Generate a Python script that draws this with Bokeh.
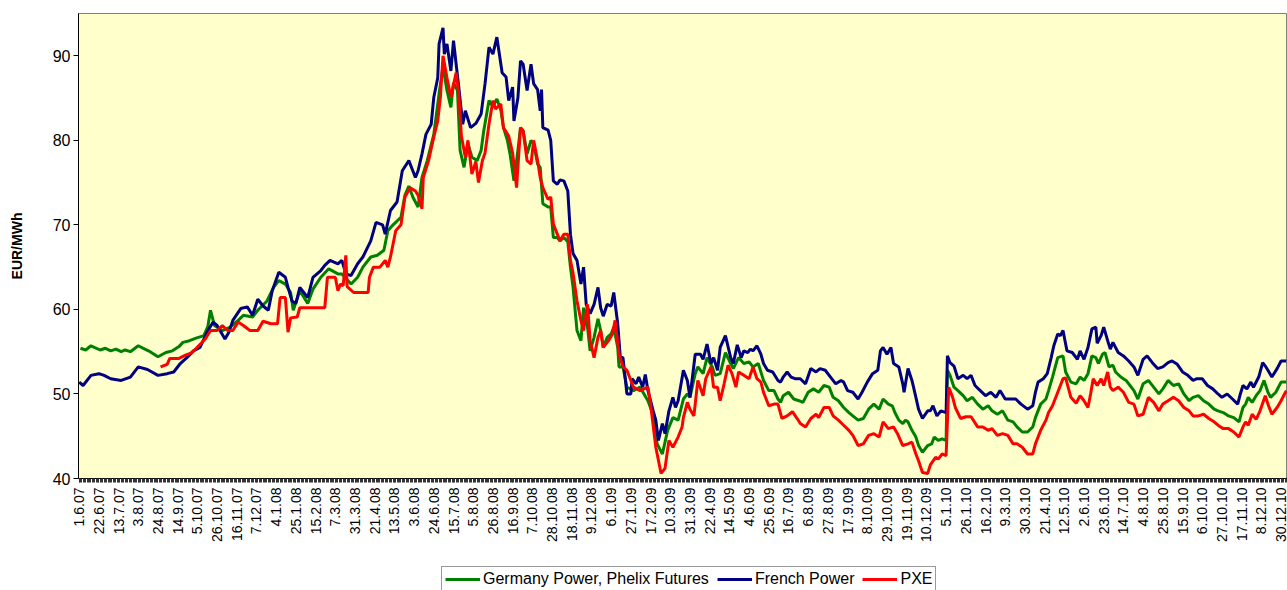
import numpy as np
from bokeh.plotting import figure
from bokeh.layouts import column
from bokeh.models import FixedTicker, Range1d, Legend, LegendItem
from bokeh.embed import file_html
from bokeh.resources import INLINE

# x tick labels (every 15th trading day)
tick_labels = ["1.6.07", "22.6.07", "13.7.07", "3.8.07", "24.8.07", "14.9.07", "5.10.07", "26.10.07",
               "16.11.07", "7.12.07", "4.1.08", "25.1.08", "15.2.08", "7.3.08", "31.3.08", "21.4.08",
               "13.5.08", "3.6.08", "24.6.08", "15.7.08", "5.8.08", "26.8.08", "16.9.08", "7.10.08",
               "28.10.08", "18.11.08", "9.12.08", "6.1.09", "27.1.09", "17.2.09", "10.3.09", "31.3.09",
               "22.4.09", "14.5.09", "4.6.09", "25.6.09", "16.7.09", "6.8.09", "27.8.09", "17.9.09",
               "8.10.09", "29.10.09", "19.11.09", "10.12.09", "5.1.10", "26.1.10", "16.2.10", "9.3.10",
               "30.3.10", "21.4.10", "12.5.10", "2.6.10", "23.6.10", "14.7.10", "4.8.10", "25.8.10",
               "15.9.10", "6.10.10", "27.10.10", "17.11.10", "8.12.10", "30.12.10"]
label_step = 15

# Germany Power, Phelix Futures: trading-day index and EUR/MWh
ger_day = [1, 5, 9, 16, 20, 24, 28, 32, 35, 39,
           45, 50, 54, 60, 66, 71, 76, 79, 84, 89,
           95, 98, 100, 103, 109, 115, 121, 125, 132, 136,
           143, 148, 152, 157, 161, 163, 168, 174, 178, 184,
           190, 197, 200, 207, 212, 216, 222, 227, 232, 235,
           239, 245, 248, 251, 254, 258, 261, 265, 270, 274,
           277, 280, 283, 285, 288, 290, 293, 296, 299, 303,
           306, 308, 312, 315, 318, 321, 323, 326, 328, 331,
           334, 336, 338, 341, 344, 346, 349, 351, 353, 357,
           359, 361, 364, 366, 369, 372, 374, 376, 379, 382,
           384, 387, 389, 392, 395, 397, 399, 402, 405, 407,
           410, 411, 414, 417, 422, 427, 433, 437, 440, 444,
           448, 452, 456, 460, 463, 465, 469, 471, 475, 478,
           482, 484, 488, 492, 496, 498, 502, 506, 510, 513,
           517, 521, 525, 529, 532, 534, 536, 540, 544, 548,
           551, 555, 559, 563, 567, 571, 574, 578, 582, 586,
           589, 593, 597, 601, 605, 609, 612, 616, 619, 621,
           624, 627, 629, 631, 634, 637, 639, 642, 646, 649,
           651, 654, 657, 660, 661, 663, 666, 669, 673, 676,
           680, 684, 688, 692, 695, 699, 703, 707, 711, 714,
           718, 722, 726, 728, 732, 736, 738, 741, 745, 749,
           751, 755, 759, 762, 765, 768, 771, 774, 776, 779,
           781, 784, 787, 789, 793, 797, 800, 803, 806, 810,
           814, 818, 822, 825, 829, 833, 837, 841, 845, 848,
           852, 856, 860, 864, 867, 871, 875, 879, 883, 886,
           888, 890, 893, 896, 899, 902, 905, 907, 911, 915,
           919]
ger_val = [55.4, 55.2, 55.7, 55.2, 55.4, 55.1, 55.3, 55.0, 55.2, 55.0,
           55.7, 55.3, 55.0, 54.4, 54.9, 55.1, 55.6, 56.1, 56.3, 56.6,
           56.9, 58.0, 59.9, 58.1, 57.5, 57.9, 58.7, 59.3, 59.1, 59.9,
           61.0, 62.6, 63.4, 63.0, 62.0, 59.9, 62.2, 60.7, 62.4, 63.8,
           64.8, 64.2, 64.2, 63.0, 63.8, 65.0, 66.2, 66.4, 67.0, 69.3,
           70.0, 70.9, 73.5, 74.6, 73.3, 72.1, 75.6, 77.6, 80.7, 85.5,
           88.7, 85.9, 83.9, 86.8, 85.9, 78.8, 76.8, 79.6, 78.0, 77.6,
           78.8, 81.1, 84.7, 84.0, 84.9, 83.6, 81.5, 80.0, 78.4, 75.2,
           78.8, 81.5, 81.1, 78.4, 80.0, 79.6, 77.2, 76.8, 72.5, 72.1,
           72.1, 68.5, 68.5, 68.1, 68.5, 68.0, 65.0, 62.6, 57.5, 56.3,
           60.2, 57.9, 55.1, 56.7, 58.9, 57.5, 55.5, 56.7, 57.1, 57.9,
           55.5, 53.2, 53.2, 50.8, 50.4, 50.8, 49.2, 47.5, 44.1, 42.9,
           45.7, 47.2, 46.9, 49.4, 50.0, 49.6, 52.4, 53.2, 52.4, 54.3,
           53.2, 52.2, 52.4, 54.9, 53.6, 53.0, 54.3, 53.6, 53.8, 53.2,
           53.6, 51.6, 50.4, 50.4, 49.4, 49.0, 49.8, 50.2, 49.4, 49.2,
           49.0, 50.2, 50.6, 50.2, 51.0, 50.8, 49.6, 49.2, 48.4, 47.8,
           47.4, 46.9, 47.1, 48.2, 48.8, 48.2, 49.4, 48.8, 48.6, 47.8,
           46.9, 46.5, 46.9, 46.7, 45.7, 44.9, 43.9, 43.1, 43.9, 44.1,
           44.9, 44.5, 44.7, 44.5, 52.8, 52.2, 50.8, 50.4, 49.8, 49.2,
           49.6, 48.8, 48.2, 48.6, 48.0, 47.6, 48.0, 46.9, 46.7, 46.1,
           45.5, 45.5, 46.1, 47.2, 48.8, 49.4, 50.4, 52.0, 54.3, 54.5,
           52.6, 51.4, 51.2, 52.0, 51.6, 52.4, 54.5, 54.3, 53.6, 54.7,
           54.9, 53.2, 53.4, 52.6, 52.0, 51.6, 51.0, 50.4, 49.4, 51.2,
           51.6, 50.8, 50.0, 50.6, 51.6, 51.0, 51.2, 50.0, 49.2, 49.6,
           49.8, 49.2, 48.8, 48.2, 48.0, 47.8, 47.4, 47.2, 46.7, 48.4,
           48.8, 49.6, 49.0, 49.8, 50.4, 51.6, 50.2, 49.6, 50.2, 51.4,
           51.4]

# French Power
fra_day = [0, 3, 9, 15, 19, 24, 32, 39, 45, 52,
           60, 67, 72, 77, 82, 87, 92, 98, 102, 105,
           111, 114, 117, 123, 128, 132, 136, 140, 144, 147,
           152, 157, 159, 162, 165, 168, 171, 174, 178, 184,
           187, 191, 197, 200, 203, 207, 212, 216, 222, 226,
           231, 233, 237, 242, 246, 251, 254, 256, 258, 261,
           264, 268, 270, 273, 274, 277, 278, 280, 283, 285,
           287, 289, 292, 294, 298, 302, 306, 309, 312, 315,
           318, 322, 325, 327, 330, 331, 334, 336, 338, 341,
           344, 346, 349, 351, 352, 353, 357, 359, 361, 364,
           366, 369, 372, 374, 376, 379, 382, 384, 386, 389,
           392, 395, 397, 399, 402, 405, 407, 410, 412, 414,
           417, 420, 421, 424, 426, 429, 431, 433, 437, 439,
           441, 444, 446, 449, 452, 454, 456, 460, 463, 465,
           469, 473, 475, 478, 481, 483, 486, 488, 492, 496,
           498, 501, 504, 506, 509, 511, 513, 516, 519, 521,
           524, 528, 532, 534, 536, 539, 542, 545, 549, 553,
           557, 561, 564, 568, 572, 576, 580, 582, 585, 589,
           593, 596, 600, 604, 608, 610, 612, 615, 618, 620,
           624, 627, 628, 631, 634, 637, 639, 642, 646, 648,
           650, 653, 656, 660, 661, 663, 666, 669, 673, 676,
           679, 682, 686, 690, 694, 698, 701, 705, 709, 713,
           717, 722, 726, 728, 730, 734, 737, 740, 742, 745,
           747, 749, 752, 756, 760, 762, 765, 768, 771, 774,
           775, 778, 780, 783, 785, 787, 791, 795, 799, 803,
           806, 810, 813, 817, 821, 825, 829, 832, 836, 840,
           844, 848, 851, 855, 859, 863, 867, 870, 874, 878,
           882, 884, 886, 889, 892, 894, 898, 901, 903, 905,
           908, 912, 915, 919]
fra_val = [51.4, 51.0, 52.2, 52.4, 52.2, 51.8, 51.6, 52.0, 53.2, 52.9,
           52.2, 52.4, 52.6, 53.6, 54.3, 55.1, 55.5, 57.5, 58.5, 58.1,
           56.5, 57.3, 58.7, 60.1, 60.3, 59.3, 61.2, 60.4, 59.9, 62.2,
           64.4, 63.8, 62.6, 61.0, 60.7, 62.6, 62.0, 61.4, 63.8, 64.6,
           65.2, 65.8, 65.4, 65.8, 64.2, 64.0, 65.4, 66.2, 68.1, 70.3,
           70.0, 68.9, 71.7, 72.7, 76.4, 77.6, 76.4, 75.6, 76.4, 78.4,
           80.7, 81.9, 85.1, 87.4, 91.4, 93.3, 90.2, 91.4, 88.2, 91.8,
           89.0, 86.3, 81.9, 83.5, 81.5, 82.0, 83.1, 86.7, 91.0, 90.2,
           92.2, 88.0, 87.5, 84.7, 86.3, 82.3, 85.0, 89.4, 89.0, 85.9,
           89.0, 86.7, 86.0, 83.5, 86.0, 81.5, 81.2, 80.0, 75.2, 74.8,
           75.3, 75.2, 74.0, 68.9, 66.6, 65.8, 63.0, 65.0, 60.6, 59.5,
           60.6, 62.6, 60.2, 59.2, 60.6, 60.4, 62.0, 58.3, 54.3, 54.3,
           50.0, 50.0, 51.8, 51.2, 52.0, 50.8, 52.3, 50.4, 48.0, 46.9,
           44.5, 46.5, 45.3, 48.0, 49.6, 48.4, 49.2, 52.8, 51.6, 49.6,
           54.7, 54.7, 54.1, 55.9, 53.6, 54.3, 52.8, 55.5, 56.9, 54.3,
           53.6, 55.8, 54.3, 55.1, 54.9, 55.3, 55.1, 55.7, 54.7, 53.6,
           52.8, 52.6, 51.6, 51.4, 52.0, 52.6, 52.0, 51.8, 51.8, 51.2,
           53.0, 52.6, 53.0, 52.8, 52.0, 51.2, 51.6, 51.4, 50.4, 50.2,
           49.4, 50.2, 51.4, 52.4, 52.8, 55.1, 55.5, 54.7, 55.5, 53.6,
           53.2, 51.2, 50.2, 53.0, 51.6, 49.6, 48.2, 47.1, 48.0, 48.0,
           48.6, 47.4, 48.0, 47.8, 54.5, 53.7, 53.3, 51.8, 52.2, 51.8,
           52.2, 51.0, 50.4, 49.8, 50.2, 49.6, 50.4, 49.4, 49.4, 49.4,
           48.8, 48.2, 48.6, 50.2, 51.4, 51.8, 52.4, 54.3, 55.7, 57.1,
           56.9, 57.5, 55.1, 54.9, 54.1, 55.1, 54.1, 55.5, 57.7, 57.9,
           56.0, 56.9, 57.9, 56.3, 55.3, 56.1, 54.9, 54.5, 53.9, 53.2,
           52.2, 54.1, 54.5, 53.7, 53.0, 53.2, 53.7, 53.9, 53.5, 52.6,
           52.2, 51.6, 51.8, 51.8, 51.0, 50.6, 50.0, 49.6, 50.0, 49.4,
           48.8, 50.0, 51.0, 50.6, 51.4, 50.8, 52.0, 53.7, 53.3, 52.8,
           52.0, 53.0, 53.9, 53.9]

# PXE
pxe_day = [62, 67, 69, 76, 81, 86, 91, 96, 100, 105,
           109, 113, 117, 121, 125, 130, 136, 140, 146, 151,
           153, 157, 159, 161, 166, 168, 187, 189, 195, 197,
           199, 201, 203, 204, 209, 220, 221, 224, 229, 233,
           235, 237, 241, 245, 248, 252, 256, 258, 261, 262,
           266, 270, 273, 275, 277, 280, 283, 287, 289, 291,
           294, 296, 299, 302, 304, 307, 309, 312, 315, 317,
           321, 323, 327, 330, 333, 336, 338, 341, 344, 346,
           349, 351, 353, 357, 359, 361, 364, 366, 369, 372,
           374, 376, 379, 382, 384, 387, 389, 392, 395, 397,
           399, 403, 406, 408, 411, 414, 417, 422, 427, 433,
           435, 439, 443, 446, 449, 452, 456, 459, 460, 463,
           465, 468, 471, 475, 477, 481, 483, 486, 488, 491,
           494, 497, 500, 502, 506, 510, 513, 516, 519, 521,
           525, 529, 532, 535, 539, 543, 547, 549, 553, 557,
           561, 563, 567, 571, 574, 578, 582, 586, 589, 593,
           597, 601, 605, 609, 612, 616, 620, 623, 627, 631,
           634, 637, 639, 642, 646, 648, 652, 654, 657, 660,
           662, 665, 667, 671, 675, 679, 684, 688, 692, 695,
           699, 703, 707, 711, 714, 718, 722, 726, 728, 732,
           736, 738, 741, 745, 749, 751, 755, 759, 762, 765,
           768, 770, 772, 775, 778, 780, 783, 785, 787, 791,
           795, 799, 803, 806, 810, 814, 818, 822, 825, 829,
           833, 837, 841, 845, 848, 852, 856, 860, 864, 867,
           871, 875, 879, 883, 886, 888, 890, 893, 896, 899,
           903, 905, 908, 912, 915, 919]
pxe_val = [53.2, 53.5, 54.2, 54.2, 54.6, 54.9, 55.7, 56.5, 57.5, 57.5,
           58.1, 57.5, 57.5, 58.5, 58.1, 57.5, 57.5, 58.6, 58.3, 58.3,
           61.4, 61.4, 57.3, 59.0, 59.1, 60.2, 60.2, 63.8, 63.8, 62.2,
           63.0, 62.8, 66.4, 62.7, 62.0, 62.0, 63.8, 65.0, 65.0, 65.8,
           65.0, 66.2, 69.3, 70.0, 73.3, 74.4, 74.0, 73.5, 71.9, 75.6,
           77.6, 80.4, 82.3, 85.1, 90.0, 87.4, 85.1, 88.0, 85.5, 80.5,
           78.0, 80.0, 76.0, 77.5, 75.0, 77.6, 78.5, 81.9, 84.7, 83.7,
           84.3, 81.5, 80.5, 78.5, 74.4, 81.5, 81.1, 77.6, 77.2, 80.0,
           77.6, 75.6, 74.4, 73.0, 73.3, 70.1, 68.9, 68.1, 68.9, 68.9,
           65.8, 64.3, 61.0, 58.7, 57.5, 60.6, 56.3, 54.3, 56.7, 57.5,
           55.5, 56.3, 57.1, 58.7, 54.7, 53.2, 52.8, 50.8, 50.4, 50.8,
           48.8, 43.7, 40.6, 41.2, 44.5, 43.7, 44.9, 46.1, 47.2, 49.0,
           48.2, 47.4, 51.6, 49.8, 51.8, 53.2, 50.8, 50.8, 49.2, 51.2,
           53.4, 52.4, 50.8, 52.6, 52.2, 51.8, 53.2, 51.8, 51.4, 50.2,
           48.6, 48.8, 48.8, 47.1, 47.4, 47.9, 47.0, 46.5, 46.1, 47.1,
           47.6, 47.2, 48.4, 48.4, 47.4, 46.9, 46.3, 45.7, 45.1, 43.9,
           44.1, 45.1, 45.3, 44.9, 46.7, 45.9, 46.1, 45.3, 43.9, 44.1,
           44.3, 42.9, 42.1, 40.7, 40.6, 41.6, 42.5, 42.3, 42.9, 42.7,
           50.8, 49.6, 48.4, 47.1, 47.3, 47.3, 46.1, 46.1, 45.7, 45.9,
           45.1, 45.3, 45.1, 44.1, 44.1, 43.7, 42.9, 42.9, 44.1, 45.7,
           46.9, 47.8, 48.6, 50.2, 51.8, 51.9, 49.6, 48.9, 49.8, 49.2,
           48.4, 50.0, 51.8, 51.0, 51.8, 51.0, 52.6, 50.8, 50.4, 50.8,
           50.2, 49.0, 48.8, 47.4, 47.6, 49.6, 49.0, 48.0, 48.8, 49.2,
           49.6, 49.2, 48.4, 48.0, 47.4, 47.4, 47.6, 47.1, 46.7, 46.3,
           45.9, 45.9, 45.5, 44.9, 46.1, 46.7, 46.3, 47.6, 47.0, 48.0,
           49.8, 48.8, 47.6, 48.4, 49.2, 50.4]

series = [
    ("Germany Power, Phelix Futures", ger_day, ger_val, "#008000"),
    ("French Power", fra_day, fra_val, "#000080"),
    ("PXE", pxe_day, pxe_val, "#FF0000"),
]

FONT = "Liberation Sans"

p = figure(width=1287, height=550, output_backend="svg", toolbar_location=None,
           x_range=Range1d(-0.5, 919.9), y_range=Range1d(40, 95),
           min_border_left=78, min_border_right=0, min_border_top=13, min_border_bottom=72)
p.background_fill_color = "#FFFFCC"
p.border_fill_color = "white"
p.outline_line_color = "#808080"
p.outline_line_width = 1
p.xgrid.grid_line_color = None
p.ygrid.grid_line_color = None

tick_pos = [i * label_step for i in range(len(tick_labels))]
p.xaxis.ticker = FixedTicker(ticks=tick_pos, minor_ticks=list(range(0, 921)))
p.xaxis.major_label_overrides = {t: lab for t, lab in zip(tick_pos, tick_labels)}
p.xaxis.major_label_orientation = np.pi / 2
p.xaxis.major_label_text_font = FONT
p.xaxis.major_label_text_font_size = "14px"
p.xaxis.major_label_text_color = "black"
p.xaxis.major_label_standoff = 5
p.xaxis.major_tick_in = 0
p.xaxis.major_tick_out = 4
p.xaxis.minor_tick_in = 0
p.xaxis.minor_tick_out = 4
p.xaxis.minor_tick_line_color = "#333333"
p.xaxis.major_tick_line_color = "#333333"
p.xaxis.axis_line_color = "black"

p.yaxis.ticker = FixedTicker(ticks=[40, 50, 60, 70, 80, 90])
p.yaxis.minor_tick_line_color = None
p.yaxis.major_tick_in = 0
p.yaxis.major_tick_out = 5
p.yaxis.major_label_text_font = FONT
p.yaxis.major_label_text_font_size = "16px"
p.yaxis.major_label_text_color = "black"
p.yaxis.major_label_standoff = 3
p.yaxis.axis_line_color = "black"
p.yaxis.major_tick_line_color = "black"
p.yaxis.axis_label = "EUR/MWh"
p.yaxis.axis_label_text_font = FONT
p.yaxis.axis_label_text_font_size = "14px"
p.yaxis.axis_label_text_font_style = "bold"
p.yaxis.axis_label_text_color = "black"
p.yaxis.axis_label_standoff = 25

for name, days, vals, col in series:
    p.line(days, vals, line_color=col, line_width=3)

# legend strip below the chart (its lines fall outside this strip's ranges)
q = figure(width=1287, height=40, output_backend="svg", toolbar_location=None,
           x_axis_type=None, y_axis_type=None, x_range=Range1d(-2, -1), y_range=Range1d(0, 1),
           min_border=0)
q.outline_line_color = None
q.background_fill_color = "white"
q.border_fill_color = "white"
q.xgrid.grid_line_color = None
q.ygrid.grid_line_color = None

items = []
for name, days, vals, col in series:
    r = q.line(days, vals, line_color=col, line_width=3)
    items.append(LegendItem(label=name, renderers=[r]))

legend = Legend(items=items, orientation="horizontal", location=(363, -2),
                label_text_font=FONT, label_text_font_size="16px", label_text_color="black",
                glyph_width=35, glyph_height=18, label_height=18, label_standoff=3, spacing=8,
                padding=3, margin=0, border_line_color="#333333", border_line_width=1,
                background_fill_color="white", background_fill_alpha=1.0)
q.add_layout(legend, "center")

layout = column(p, q, spacing=0)
open("out.html", "w").write(file_html(layout, INLINE))
